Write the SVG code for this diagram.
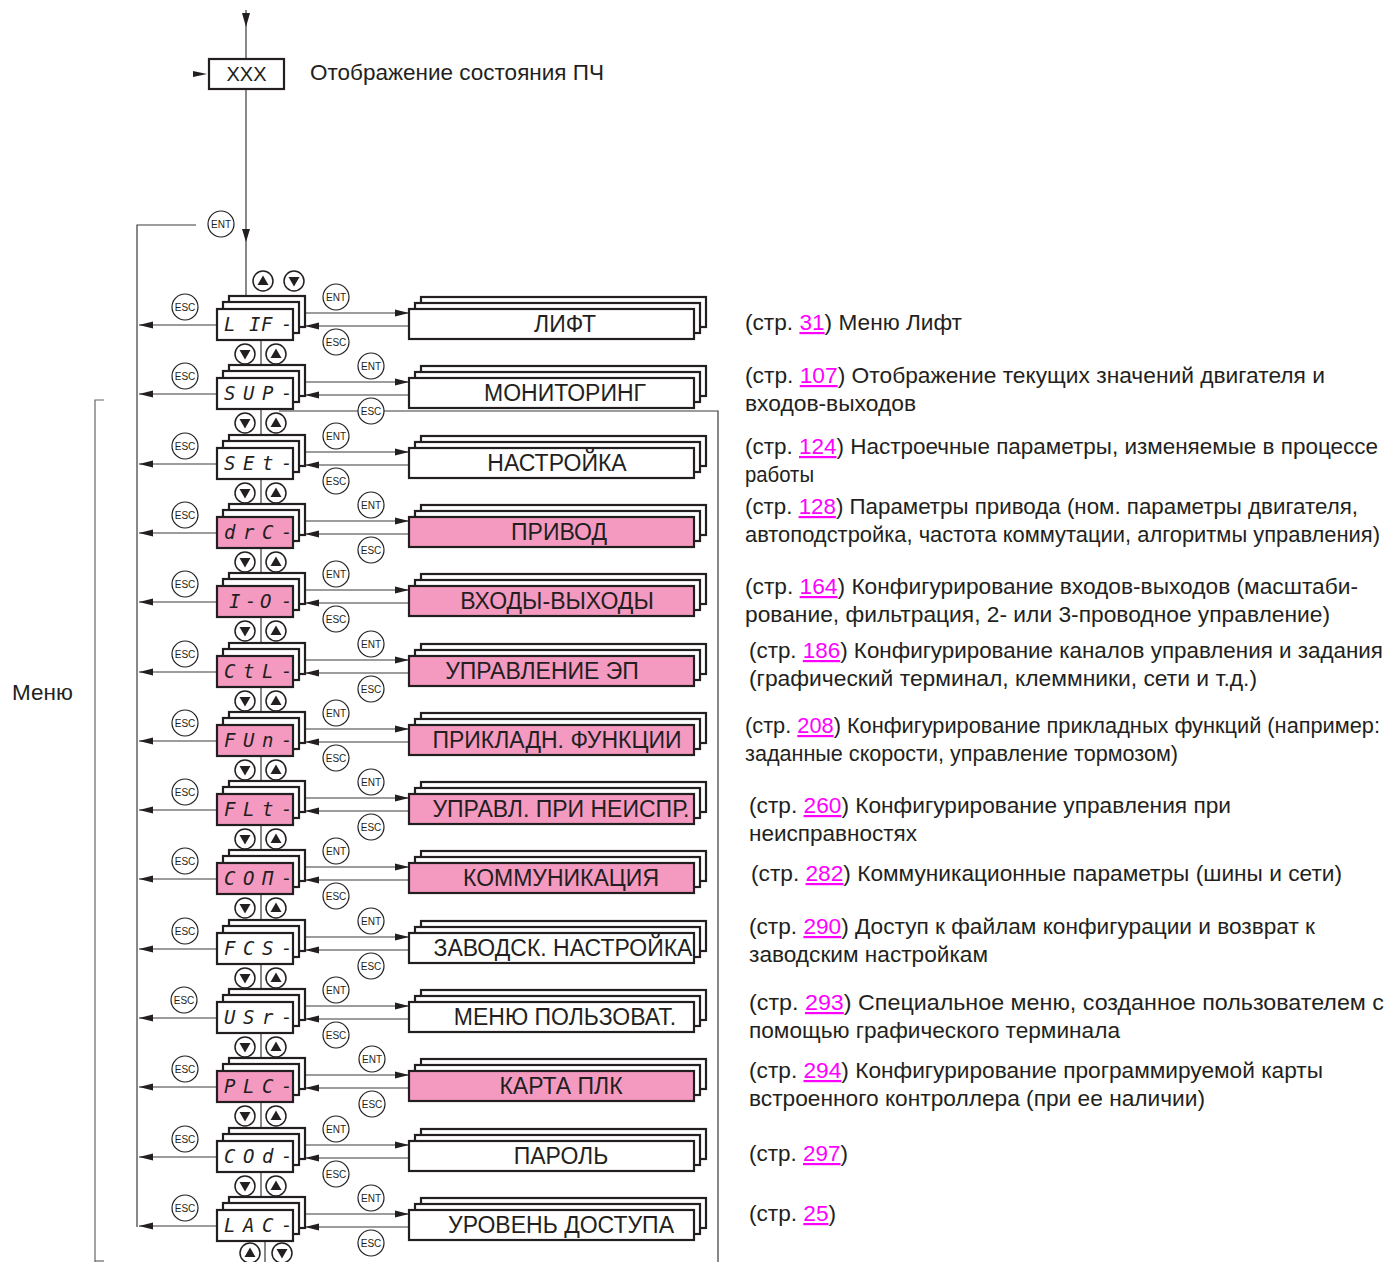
<svg xmlns="http://www.w3.org/2000/svg" xmlns:xlink="http://www.w3.org/1999/xlink" width="1388" height="1262" viewBox="0 0 1388 1262">
<style>
.bx{fill:#fff;stroke:#231f20;stroke-width:2.2}
.pk{fill:#F49AC1}
.seg{font-family:"DejaVu Sans Mono","Liberation Mono",monospace;font-style:italic;font-size:19px;fill:#231f20}
.ml{font-family:"Liberation Sans",Arial,sans-serif;font-size:23px;fill:#231f20;text-anchor:middle}
.rt{font-family:"Liberation Sans",Arial,sans-serif;font-size:22px;fill:#231f20}
.lk{fill:#ff00ff;text-decoration:underline}
.ln{stroke:#3a3a3a;stroke-width:1.2;fill:none}
.lg{stroke:#666;stroke-width:1.2;fill:none}
.bc{fill:#fff;stroke:#231f20;stroke-width:1.2}
.bt{font-family:"Liberation Sans",Arial,sans-serif;font-size:10px;fill:#231f20;text-anchor:middle}
</style>
<defs>
<marker id="ah" markerUnits="userSpaceOnUse" markerWidth="15" markerHeight="8" refX="14" refY="4" orient="auto"><path d="M0,0.5 L14,4 L0,7.5 z" fill="#231f20"/></marker>
<g id="up"><circle r="10" fill="#fff" stroke="#231f20" stroke-width="1.5"/><path d="M-5.5,4 L5.5,4 L0,-5.5 z" fill="#231f20"/></g>
<g id="dn"><circle r="10" fill="#fff" stroke="#231f20" stroke-width="1.5"/><path d="M-5.5,-4 L5.5,-4 L0,5.5 z" fill="#231f20"/></g>
</defs>
<rect width="1388" height="1262" fill="#fff"/>

<g id="connectors">
<line class="ln" x1="246" y1="10" x2="246" y2="59"/>
<path d="M242,13 L250,13 L246,27 z" fill="#231f20"/>
<path d="M193,71 L207,74 L193,77 z" fill="#231f20"/>
<line class="ln" x1="246" y1="89" x2="246" y2="297"/>
<path d="M242,229 L250,229 L246,242 z" fill="#231f20"/>
<polyline class="ln" points="196,225 137,225 137,1227"/>
<polyline class="lg" points="104,400 95,400 95,1262"/>
<line class="lg" x1="95" y1="1261" x2="104" y2="1261"/>
<polyline class="ln" points="279,411 718,411 718,1262"/>
<g marker-end="url(#ah)">
<line class="ln" x1="305" y1="313" x2="409" y2="313"/><line class="ln" x1="409" y1="326" x2="305" y2="326"/><line class="ln" x1="217" y1="325" x2="139" y2="325"/>
<line class="ln" x1="305" y1="382" x2="409" y2="382"/><line class="ln" x1="409" y1="395" x2="305" y2="395"/><line class="ln" x1="217" y1="394" x2="139" y2="394"/>
<line class="ln" x1="305" y1="452" x2="409" y2="452"/><line class="ln" x1="409" y1="465" x2="305" y2="465"/><line class="ln" x1="217" y1="464" x2="139" y2="464"/>
<line class="ln" x1="305" y1="521" x2="409" y2="521"/><line class="ln" x1="409" y1="534" x2="305" y2="534"/><line class="ln" x1="217" y1="533" x2="139" y2="533"/>
<line class="ln" x1="305" y1="590" x2="409" y2="590"/><line class="ln" x1="409" y1="603" x2="305" y2="603"/><line class="ln" x1="217" y1="602" x2="139" y2="602"/>
<line class="ln" x1="305" y1="660" x2="409" y2="660"/><line class="ln" x1="409" y1="673" x2="305" y2="673"/><line class="ln" x1="217" y1="672" x2="139" y2="672"/>
<line class="ln" x1="305" y1="729" x2="409" y2="729"/><line class="ln" x1="409" y1="742" x2="305" y2="742"/><line class="ln" x1="217" y1="741" x2="139" y2="741"/>
<line class="ln" x1="305" y1="798" x2="409" y2="798"/><line class="ln" x1="409" y1="811" x2="305" y2="811"/><line class="ln" x1="217" y1="810" x2="139" y2="810"/>
<line class="ln" x1="305" y1="867" x2="409" y2="867"/><line class="ln" x1="409" y1="880" x2="305" y2="880"/><line class="ln" x1="217" y1="879" x2="139" y2="879"/>
<line class="ln" x1="305" y1="937" x2="409" y2="937"/><line class="ln" x1="409" y1="950" x2="305" y2="950"/><line class="ln" x1="217" y1="949" x2="139" y2="949"/>
<line class="ln" x1="305" y1="1006" x2="409" y2="1006"/><line class="ln" x1="409" y1="1019" x2="305" y2="1019"/><line class="ln" x1="217" y1="1018" x2="139" y2="1018"/>
<line class="ln" x1="305" y1="1075" x2="409" y2="1075"/><line class="ln" x1="409" y1="1088" x2="305" y2="1088"/><line class="ln" x1="217" y1="1087" x2="139" y2="1087"/>
<line class="ln" x1="305" y1="1145" x2="409" y2="1145"/><line class="ln" x1="409" y1="1158" x2="305" y2="1158"/><line class="ln" x1="217" y1="1157" x2="139" y2="1157"/>
<line class="ln" x1="305" y1="1214" x2="409" y2="1214"/><line class="ln" x1="409" y1="1227" x2="305" y2="1227"/><line class="ln" x1="217" y1="1226" x2="139" y2="1226"/>
</g>
<line class="ln" x1="261" y1="340" x2="261" y2="365"/>
<line class="ln" x1="261" y1="409" x2="261" y2="435"/>
<line class="ln" x1="261" y1="479" x2="261" y2="504"/>
<line class="ln" x1="261" y1="548" x2="261" y2="573"/>
<line class="ln" x1="261" y1="617" x2="261" y2="643"/>
<line class="ln" x1="261" y1="687" x2="261" y2="712"/>
<line class="ln" x1="261" y1="756" x2="261" y2="781"/>
<line class="ln" x1="261" y1="825" x2="261" y2="850"/>
<line class="ln" x1="261" y1="894" x2="261" y2="920"/>
<line class="ln" x1="261" y1="964" x2="261" y2="989"/>
<line class="ln" x1="261" y1="1033" x2="261" y2="1058"/>
<line class="ln" x1="261" y1="1102" x2="261" y2="1128"/>
<line class="ln" x1="261" y1="1172" x2="261" y2="1197"/>
<line class="ln" x1="265" y1="1241" x2="265" y2="1262"/>
</g>

<g id="buttons">
<circle class="bc" cx="221" cy="224" r="13"/><text class="bt" x="221" y="227.5">ENT</text>
<use xlink:href="#up" x="263" y="281"/><use xlink:href="#dn" x="294" y="281"/>
<use xlink:href="#dn" x="245" y="354"/><use xlink:href="#up" x="276" y="354"/>
<use xlink:href="#dn" x="245" y="423"/><use xlink:href="#up" x="276" y="423"/>
<use xlink:href="#dn" x="245" y="493"/><use xlink:href="#up" x="276" y="493"/>
<use xlink:href="#dn" x="245" y="562"/><use xlink:href="#up" x="276" y="562"/>
<use xlink:href="#dn" x="245" y="631"/><use xlink:href="#up" x="276" y="631"/>
<use xlink:href="#dn" x="245" y="701"/><use xlink:href="#up" x="276" y="701"/>
<use xlink:href="#dn" x="245" y="770"/><use xlink:href="#up" x="276" y="770"/>
<use xlink:href="#dn" x="245" y="839"/><use xlink:href="#up" x="276" y="839"/>
<use xlink:href="#dn" x="245" y="908"/><use xlink:href="#up" x="276" y="908"/>
<use xlink:href="#dn" x="245" y="978"/><use xlink:href="#up" x="276" y="978"/>
<use xlink:href="#dn" x="245" y="1047"/><use xlink:href="#up" x="276" y="1047"/>
<use xlink:href="#dn" x="245" y="1116"/><use xlink:href="#up" x="276" y="1116"/>
<use xlink:href="#dn" x="245" y="1186"/><use xlink:href="#up" x="276" y="1186"/>
<use xlink:href="#up" x="250" y="1253"/><use xlink:href="#dn" x="282" y="1253"/>

<circle class="bc" cx="185" cy="307" r="13"/><text class="bt" x="185" y="310.5">ESC</text>
<circle class="bc" cx="336" cy="297" r="13"/><text class="bt" x="336" y="300.5">ENT</text>
<circle class="bc" cx="336" cy="342" r="13"/><text class="bt" x="336" y="345.5">ESC</text>

<circle class="bc" cx="185" cy="376" r="13"/><text class="bt" x="185" y="379.5">ESC</text>
<circle class="bc" cx="371" cy="366" r="13"/><text class="bt" x="371" y="369.5">ENT</text>
<circle class="bc" cx="371" cy="411" r="13"/><text class="bt" x="371" y="414.5">ESC</text>

<circle class="bc" cx="185" cy="446" r="13"/><text class="bt" x="185" y="449.5">ESC</text>
<circle class="bc" cx="336" cy="436" r="13"/><text class="bt" x="336" y="439.5">ENT</text>
<circle class="bc" cx="336" cy="481" r="13"/><text class="bt" x="336" y="484.5">ESC</text>

<circle class="bc" cx="185" cy="515" r="13"/><text class="bt" x="185" y="518.5">ESC</text>
<circle class="bc" cx="371" cy="505" r="13"/><text class="bt" x="371" y="508.5">ENT</text>
<circle class="bc" cx="371" cy="550" r="13"/><text class="bt" x="371" y="553.5">ESC</text>

<circle class="bc" cx="185" cy="584" r="13"/><text class="bt" x="185" y="587.5">ESC</text>
<circle class="bc" cx="336" cy="574" r="13"/><text class="bt" x="336" y="577.5">ENT</text>
<circle class="bc" cx="336" cy="619" r="13"/><text class="bt" x="336" y="622.5">ESC</text>

<circle class="bc" cx="185" cy="654" r="13"/><text class="bt" x="185" y="657.5">ESC</text>
<circle class="bc" cx="371" cy="644" r="13"/><text class="bt" x="371" y="647.5">ENT</text>
<circle class="bc" cx="371" cy="689" r="13"/><text class="bt" x="371" y="692.5">ESC</text>

<circle class="bc" cx="185" cy="723" r="13"/><text class="bt" x="185" y="726.5">ESC</text>
<circle class="bc" cx="336" cy="713" r="13"/><text class="bt" x="336" y="716.5">ENT</text>
<circle class="bc" cx="336" cy="758" r="13"/><text class="bt" x="336" y="761.5">ESC</text>

<circle class="bc" cx="185" cy="792" r="13"/><text class="bt" x="185" y="795.5">ESC</text>
<circle class="bc" cx="371" cy="782" r="13"/><text class="bt" x="371" y="785.5">ENT</text>
<circle class="bc" cx="371" cy="827" r="13"/><text class="bt" x="371" y="830.5">ESC</text>

<circle class="bc" cx="185" cy="861" r="13"/><text class="bt" x="185" y="864.5">ESC</text>
<circle class="bc" cx="336" cy="851" r="13"/><text class="bt" x="336" y="854.5">ENT</text>
<circle class="bc" cx="336" cy="896" r="13"/><text class="bt" x="336" y="899.5">ESC</text>

<circle class="bc" cx="185" cy="931" r="13"/><text class="bt" x="185" y="934.5">ESC</text>
<circle class="bc" cx="371" cy="921" r="13"/><text class="bt" x="371" y="924.5">ENT</text>
<circle class="bc" cx="371" cy="966" r="13"/><text class="bt" x="371" y="969.5">ESC</text>

<circle class="bc" cx="184" cy="1000" r="13"/><text class="bt" x="184" y="1003.5">ESC</text>
<circle class="bc" cx="336" cy="990" r="13"/><text class="bt" x="336" y="993.5">ENT</text>
<circle class="bc" cx="336" cy="1035" r="13"/><text class="bt" x="336" y="1038.5">ESC</text>

<circle class="bc" cx="185" cy="1069" r="13"/><text class="bt" x="185" y="1072.5">ESC</text>
<circle class="bc" cx="372" cy="1059" r="13"/><text class="bt" x="372" y="1062.5">ENT</text>
<circle class="bc" cx="372" cy="1104" r="13"/><text class="bt" x="372" y="1107.5">ESC</text>

<circle class="bc" cx="185" cy="1139" r="13"/><text class="bt" x="185" y="1142.5">ESC</text>
<circle class="bc" cx="336" cy="1129" r="13"/><text class="bt" x="336" y="1132.5">ENT</text>
<circle class="bc" cx="336" cy="1174" r="13"/><text class="bt" x="336" y="1177.5">ESC</text>

<circle class="bc" cx="185" cy="1208" r="13"/><text class="bt" x="185" y="1211.5">ESC</text>
<circle class="bc" cx="371" cy="1198" r="13"/><text class="bt" x="371" y="1201.5">ENT</text>
<circle class="bc" cx="371" cy="1243" r="13"/><text class="bt" x="371" y="1246.5">ESC</text>
</g>

<g id="status">
<rect x="209" y="59" width="75" height="30" fill="#fff" stroke="#231f20" stroke-width="2.2"/>
<text class="ml" x="246.5" y="81" style="font-size:20px">XXX</text>
<text class="rt" x="310" y="80" style="font-size:22.5px">Отображение состояния ПЧ</text>
</g>
<g id="menu-label"><text class="rt" x="12" y="700" style="font-size:22.5px">Меню</text></g>

<g id="c-lif"><rect class="bx" x="229" y="296" width="76" height="31"/><rect class="bx" x="223" y="302" width="76" height="31"/><rect class="bx" x="217" y="309" width="76" height="31"/><text class="seg" x="224 249 261 281" y="331">LIF-</text></g>
<g id="c-sup"><rect class="bx" x="229" y="365" width="76" height="31"/><rect class="bx" x="223" y="371" width="76" height="31"/><rect class="bx" x="217" y="378" width="76" height="31"/><text class="seg" x="224 243 262 281" y="400">SUP-</text></g>
<g id="c-set"><rect class="bx" x="229" y="435" width="76" height="31"/><rect class="bx" x="223" y="441" width="76" height="31"/><rect class="bx" x="217" y="448" width="76" height="31"/><text class="seg" x="224 243 262 281" y="470">SEt-</text></g>
<g id="c-drc"><rect class="bx" x="229" y="504" width="76" height="31"/><rect class="bx" x="223" y="510" width="76" height="31"/><rect class="bx pk" x="217" y="517" width="76" height="31"/><text class="seg" x="224 243 262 281" y="539">drC-</text></g>
<g id="c-io"><rect class="bx" x="229" y="573" width="76" height="31"/><rect class="bx" x="223" y="579" width="76" height="31"/><rect class="bx pk" x="217" y="586" width="76" height="31"/><text class="seg" x="229 245 260 281" y="608">I-O-</text></g>
<g id="c-ctl"><rect class="bx" x="229" y="643" width="76" height="31"/><rect class="bx" x="223" y="649" width="76" height="31"/><rect class="bx pk" x="217" y="656" width="76" height="31"/><text class="seg" x="224 243 262 281" y="678">CtL-</text></g>
<g id="c-fun"><rect class="bx" x="229" y="712" width="76" height="31"/><rect class="bx" x="223" y="718" width="76" height="31"/><rect class="bx pk" x="217" y="725" width="76" height="31"/><text class="seg" x="224 243 262 281" y="747">FUn-</text></g>
<g id="c-flt"><rect class="bx" x="229" y="781" width="76" height="31"/><rect class="bx" x="223" y="787" width="76" height="31"/><rect class="bx pk" x="217" y="794" width="76" height="31"/><text class="seg" x="224 243 262 281" y="816">FLt-</text></g>
<g id="c-com"><rect class="bx" x="229" y="850" width="76" height="31"/><rect class="bx" x="223" y="856" width="76" height="31"/><rect class="bx pk" x="217" y="863" width="76" height="31"/><text class="seg" x="224 243 262 281" y="885">COП-</text></g>
<g id="c-fcs"><rect class="bx" x="229" y="920" width="76" height="31"/><rect class="bx" x="223" y="926" width="76" height="31"/><rect class="bx" x="217" y="933" width="76" height="31"/><text class="seg" x="224 243 262 281" y="955">FCS-</text></g>
<g id="c-usr"><rect class="bx" x="229" y="989" width="76" height="31"/><rect class="bx" x="223" y="995" width="76" height="31"/><rect class="bx" x="217" y="1002" width="76" height="31"/><text class="seg" x="224 243 262 281" y="1024">USr-</text></g>
<g id="c-plc"><rect class="bx" x="229" y="1058" width="76" height="31"/><rect class="bx" x="223" y="1064" width="76" height="31"/><rect class="bx pk" x="217" y="1071" width="76" height="31"/><text class="seg" x="224 243 262 281" y="1093">PLC-</text></g>
<g id="c-cod"><rect class="bx" x="229" y="1128" width="76" height="31"/><rect class="bx" x="223" y="1134" width="76" height="31"/><rect class="bx" x="217" y="1141" width="76" height="31"/><text class="seg" x="224 243 262 281" y="1163">COd-</text></g>
<g id="c-lac"><rect class="bx" x="229" y="1197" width="76" height="31"/><rect class="bx" x="223" y="1203" width="76" height="31"/><rect class="bx" x="217" y="1210" width="76" height="31"/><text class="seg" x="224 243 262 281" y="1232">LAC-</text></g>

<g id="m-lif"><rect class="bx" x="421" y="297" width="285" height="30"/><rect class="bx" x="415" y="303" width="285" height="30"/><rect class="bx" x="409" y="309" width="285" height="30"/><text class="ml" x="565" y="332">ЛИФТ</text></g>
<g id="m-sup"><rect class="bx" x="421" y="366" width="285" height="30"/><rect class="bx" x="415" y="372" width="285" height="30"/><rect class="bx" x="409" y="378" width="285" height="30"/><text class="ml" x="565" y="401">МОНИТОРИНГ</text></g>
<g id="m-set"><rect class="bx" x="421" y="436" width="285" height="30"/><rect class="bx" x="415" y="442" width="285" height="30"/><rect class="bx" x="409" y="448" width="285" height="30"/><text class="ml" x="557" y="471">НАСТРОЙКА</text></g>
<g id="m-drc"><rect class="bx" x="421" y="505" width="285" height="30"/><rect class="bx" x="415" y="511" width="285" height="30"/><rect class="bx pk" x="409" y="517" width="285" height="30"/><text class="ml" x="559" y="540">ПРИВОД</text></g>
<g id="m-io"><rect class="bx" x="421" y="574" width="285" height="30"/><rect class="bx" x="415" y="580" width="285" height="30"/><rect class="bx pk" x="409" y="586" width="285" height="30"/><text class="ml" x="557" y="609">ВХОДЫ-ВЫХОДЫ</text></g>
<g id="m-ctl"><rect class="bx" x="421" y="644" width="285" height="30"/><rect class="bx" x="415" y="650" width="285" height="30"/><rect class="bx pk" x="409" y="656" width="285" height="30"/><text class="ml" x="542" y="679">УПРАВЛЕНИЕ ЭП</text></g>
<g id="m-fun"><rect class="bx" x="421" y="713" width="285" height="30"/><rect class="bx" x="415" y="719" width="285" height="30"/><rect class="bx pk" x="409" y="725" width="285" height="30"/><text class="ml" x="557" y="748">ПРИКЛАДН. ФУНКЦИИ</text></g>
<g id="m-flt"><rect class="bx" x="421" y="782" width="285" height="30"/><rect class="bx" x="415" y="788" width="285" height="30"/><rect class="bx pk" x="409" y="794" width="285" height="30"/><text class="ml" x="561" y="817">УПРАВЛ. ПРИ НЕИСПР.</text></g>
<g id="m-com"><rect class="bx" x="421" y="851" width="285" height="30"/><rect class="bx" x="415" y="857" width="285" height="30"/><rect class="bx pk" x="409" y="863" width="285" height="30"/><text class="ml" x="561" y="886">КОММУНИКАЦИЯ</text></g>
<g id="m-fcs"><rect class="bx" x="421" y="921" width="285" height="30"/><rect class="bx" x="415" y="927" width="285" height="30"/><rect class="bx" x="409" y="933" width="285" height="30"/><text class="ml" x="563" y="956">ЗАВОДСК. НАСТРОЙКА</text></g>
<g id="m-usr"><rect class="bx" x="421" y="990" width="285" height="30"/><rect class="bx" x="415" y="996" width="285" height="30"/><rect class="bx" x="409" y="1002" width="285" height="30"/><text class="ml" x="565" y="1025">МЕНЮ ПОЛЬЗОВАТ.</text></g>
<g id="m-plc"><rect class="bx" x="421" y="1059" width="285" height="30"/><rect class="bx" x="415" y="1065" width="285" height="30"/><rect class="bx pk" x="409" y="1071" width="285" height="30"/><text class="ml" x="561" y="1094">КАРТА ПЛК</text></g>
<g id="m-cod"><rect class="bx" x="421" y="1129" width="285" height="30"/><rect class="bx" x="415" y="1135" width="285" height="30"/><rect class="bx" x="409" y="1141" width="285" height="30"/><text class="ml" x="561" y="1164">ПАРОЛЬ</text></g>
<g id="m-lac"><rect class="bx" x="421" y="1198" width="285" height="30"/><rect class="bx" x="415" y="1204" width="285" height="30"/><rect class="bx" x="409" y="1210" width="285" height="30"/><text class="ml" x="561" y="1233">УРОВЕНЬ ДОСТУПА</text></g>

<g id="descriptions">
<text class="rt" x="745" y="330" textLength="217" lengthAdjust="spacingAndGlyphs">(стр. <tspan class="lk">31</tspan>) Меню Лифт</text>
<text class="rt" x="745" y="383" textLength="580" lengthAdjust="spacingAndGlyphs">(стр. <tspan class="lk">107</tspan>) Отображение текущих значений двигателя и</text>
<text class="rt" x="745" y="411" textLength="171" lengthAdjust="spacingAndGlyphs">входов-выходов</text>
<text class="rt" x="745" y="454" textLength="633" lengthAdjust="spacingAndGlyphs">(стр. <tspan class="lk">124</tspan>) Настроечные параметры, изменяемые в процессе</text>
<text class="rt" x="745" y="482" textLength="69" lengthAdjust="spacingAndGlyphs">работы</text>
<text class="rt" x="745" y="514" textLength="613" lengthAdjust="spacingAndGlyphs">(стр. <tspan class="lk">128</tspan>) Параметры привода (ном. параметры двигателя,</text>
<text class="rt" x="745" y="542" textLength="635" lengthAdjust="spacingAndGlyphs">автоподстройка, частота коммутации, алгоритмы управления)</text>
<text class="rt" x="745" y="594" textLength="613" lengthAdjust="spacingAndGlyphs">(стр. <tspan class="lk">164</tspan>) Конфигурирование входов-выходов (масштаби-</text>
<text class="rt" x="745" y="622" textLength="585" lengthAdjust="spacingAndGlyphs">рование, фильтрация, 2- или 3-проводное управление)</text>
<text class="rt" x="749" y="658" textLength="634" lengthAdjust="spacingAndGlyphs">(стр. <tspan class="lk">186</tspan>) Конфигурирование каналов управления и задания</text>
<text class="rt" x="749" y="686" textLength="508" lengthAdjust="spacingAndGlyphs">(графический терминал, клеммники, сети и т.д.)</text>
<text class="rt" x="745" y="733" textLength="635" lengthAdjust="spacingAndGlyphs">(стр. <tspan class="lk">208</tspan>) Конфигурирование прикладных функций (например:</text>
<text class="rt" x="745" y="761" textLength="433" lengthAdjust="spacingAndGlyphs">заданные скорости, управление тормозом)</text>
<text class="rt" x="749" y="813" textLength="482" lengthAdjust="spacingAndGlyphs">(стр. <tspan class="lk">260</tspan>) Конфигурирование управления при</text>
<text class="rt" x="749" y="841" textLength="168" lengthAdjust="spacingAndGlyphs">неисправностях</text>
<text class="rt" x="751" y="881" textLength="591" lengthAdjust="spacingAndGlyphs">(стр. <tspan class="lk">282</tspan>) Коммуникационные параметры (шины и сети)</text>
<text class="rt" x="749" y="934" textLength="566" lengthAdjust="spacingAndGlyphs">(стр. <tspan class="lk">290</tspan>) Доступ к файлам конфигурации и возврат к</text>
<text class="rt" x="749" y="962" textLength="239" lengthAdjust="spacingAndGlyphs">заводским настройкам</text>
<text class="rt" x="749" y="1010" textLength="635" lengthAdjust="spacingAndGlyphs">(стр. <tspan class="lk">293</tspan>) Специальное меню, созданное пользователем с</text>
<text class="rt" x="749" y="1038" textLength="371" lengthAdjust="spacingAndGlyphs">помощью графического терминала</text>
<text class="rt" x="749" y="1078" textLength="574" lengthAdjust="spacingAndGlyphs">(стр. <tspan class="lk">294</tspan>) Конфигурирование программируемой карты</text>
<text class="rt" x="749" y="1106" textLength="456" lengthAdjust="spacingAndGlyphs">встроенного контроллера (при ее наличии)</text>
<text class="rt" x="749" y="1161" textLength="99" lengthAdjust="spacingAndGlyphs">(стр. <tspan class="lk">297</tspan>)</text>
<text class="rt" x="749" y="1221" textLength="87" lengthAdjust="spacingAndGlyphs">(стр. <tspan class="lk">25</tspan>)</text>
</g>
</svg>
